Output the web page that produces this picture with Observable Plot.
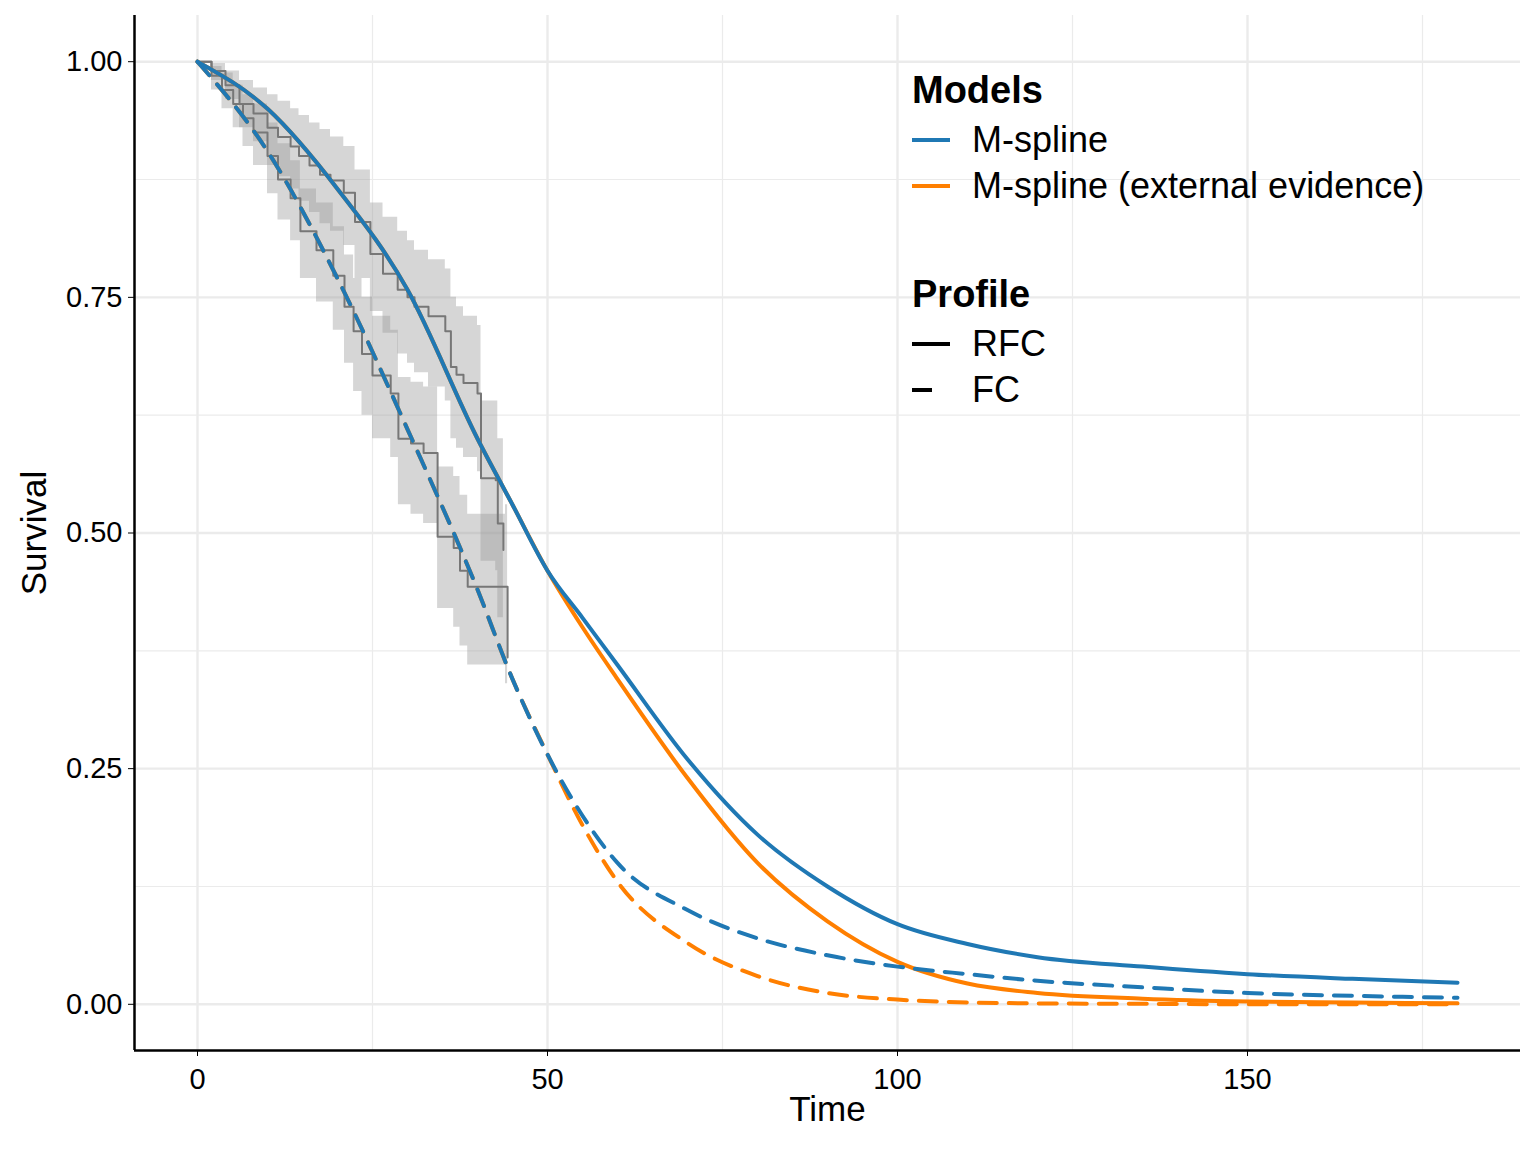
<!DOCTYPE html>
<html><head><meta charset="utf-8">
<script src="https://cdn.jsdelivr.net/npm/d3@7"></script>
<script src="https://cdn.jsdelivr.net/npm/@observablehq/plot@0.6"></script>
<style>
body{margin:0;background:#fff;font-family:"Liberation Sans",Arial,sans-serif}
#wrap{position:relative;width:1536px;height:1152px}
.leg{position:absolute;left:912px;font-size:36px;color:#000}
.leg b{font-size:38px}
.row{display:flex;align-items:center;height:46px}
.sw{width:38px;height:0;border-top:4px solid;margin-right:22px}
</style></head><body><div id="wrap"></div>
<script>
// Kaplan-Meier RFC
const kmRfcT = [0,2,4,6,8,10,11.5,13.3,14.5,16,17.5,19,20.9,22.5,24.7,26.5,28.6,30,31,33,35.4,36.2,37,38,40,40.5,42.6,42.9,43.7];
const kmRfcS = [1,0.99,0.975,0.955,0.945,0.93,0.92,0.91,0.9,0.89,0.88,0.874,0.861,0.83,0.796,0.775,0.758,0.75,0.74,0.73,0.714,0.676,0.668,0.659,0.648,0.558,0.556,0.51,0.482];
const kmRfcLo= [1,0.98,0.96,0.93,0.915,0.89,0.878,0.865,0.852,0.84,0.828,0.82,0.805,0.77,0.735,0.712,0.69,0.68,0.67,0.655,0.64,0.60,0.59,0.58,0.565,0.47,0.46,0.41,0.38];
const kmRfcHi= [1,0.998,0.99,0.98,0.972,0.965,0.958,0.95,0.943,0.935,0.928,0.92,0.91,0.885,0.85,0.835,0.82,0.81,0.80,0.79,0.78,0.75,0.74,0.73,0.72,0.64,0.64,0.60,0.58];
// Kaplan-Meier FC
const kmFcT = [0,2,3.5,5.1,6.5,8,10,11.5,13.3,14.7,17,19.4,21,22.3,23.5,25,27.6,28.7,30.5,32.3,34.3,36.6,37.5,38.6,44,44.3];
const kmFcS = [1,0.985,0.97,0.955,0.94,0.925,0.90,0.875,0.855,0.82,0.80,0.773,0.74,0.714,0.69,0.667,0.648,0.60,0.595,0.585,0.496,0.484,0.46,0.443,0.443,0.368];
const kmFcLo= [1,0.97,0.95,0.93,0.91,0.89,0.86,0.832,0.81,0.77,0.745,0.715,0.68,0.65,0.625,0.60,0.58,0.53,0.52,0.51,0.42,0.40,0.38,0.36,0.34,0.27];
const kmFcHi= [1,0.995,0.988,0.975,0.965,0.955,0.935,0.913,0.895,0.865,0.85,0.825,0.795,0.77,0.75,0.73,0.715,0.665,0.66,0.655,0.57,0.56,0.54,0.52,0.53,0.47];
// Fitted models
const fitT = [0,10,20,30,40,45,50,55,60,70,80,90,100,110,120,135,150,165,180];
const rfcMs  = [1,0.95,0.865,0.758,0.60,0.53,0.46,0.41,0.36,0.26,0.18,0.125,0.085,0.064,0.05,0.04,0.032,0.027,0.023];
const rfcExt = [1,0.95,0.865,0.758,0.60,0.53,0.46,0.40,0.345,0.24,0.15,0.088,0.045,0.022,0.012,0.006,0.003,0.002,0.001];
const fcMs   = [1,0.905,0.77,0.61,0.44,0.345,0.265,0.20,0.15,0.10,0.07,0.052,0.04,0.032,0.025,0.018,0.012,0.009,0.007];
const fcExt  = [1,0.905,0.77,0.61,0.44,0.345,0.265,0.19,0.13,0.065,0.03,0.012,0.005,0.002,0.001,0.0005,0,0,0];
const modelNames = ["M-spline","M-spline (external evidence)"];
const profileNames = ["RFC","FC"];
const colors = ["#1f78b4","#ff7f00"];

const km = (T,S,L,H)=>T.map((t,i)=>({t,s:S[i],lo:L[i],hi:H[i]}));
const kmR = km(kmRfcT,kmRfcS,kmRfcLo,kmRfcHi), kmF = km(kmFcT,kmFcS,kmFcLo,kmFcHi);

const order = [[rfcExt,1,0],[fcExt,1,1],[rfcMs,0,0],[fcMs,0,1]];
const lineMarks = order.map(([arr,m,p])=>Plot.line(fitT.map((t,i)=>({t,s:arr[i]})),
  {x:"t",y:"s",stroke:colors[m],strokeWidth:4,curve:"monotone-x",strokeDasharray:p?"18,12":null}));

const chart = Plot.plot({
  width:1536,height:1152,marginLeft:134,marginRight:16,marginTop:15,marginBottom:102,
  style:{fontFamily:"Liberation Sans, Arial, sans-serif",fontSize:"29px",color:"#000",background:"#fff"},
  x:{domain:[-9,189],label:null},
  y:{domain:[-0.049,1.049],label:null},
  marks:[
    Plot.gridX([25,75,125,175],{stroke:"#ebebeb",strokeOpacity:1,strokeWidth:1.2}),
    Plot.gridY([0.125,0.375,0.625,0.875],{stroke:"#ebebeb",strokeOpacity:1,strokeWidth:1.2}),
    Plot.gridX([0,50,100,150],{stroke:"#ebebeb",strokeOpacity:1,strokeWidth:2.4}),
    Plot.gridY([0,0.25,0.5,0.75,1],{stroke:"#ebebeb",strokeOpacity:1,strokeWidth:2.4}),
    Plot.areaY(kmR,{x:"t",y1:"lo",y2:"hi",curve:"step-after",fill:"#999",fillOpacity:0.4}),
    Plot.areaY(kmF,{x:"t",y1:"lo",y2:"hi",curve:"step-after",fill:"#999",fillOpacity:0.4}),
    Plot.line(kmR,{x:"t",y:"s",curve:"step-after",stroke:"#777",strokeWidth:2}),
    Plot.line(kmF,{x:"t",y:"s",curve:"step-after",stroke:"#777",strokeWidth:2}),
    ...lineMarks,
    Plot.axisX({ticks:[0,50,100,150],tickSize:6,tickPadding:12,fontSize:29}),
    Plot.axisY({ticks:[0,0.25,0.5,0.75,1],tickFormat:d3.format(".2f"),tickSize:6,tickPadding:6,fontSize:29}),
    Plot.ruleX([-9],{stroke:"#000",strokeWidth:2.5}),
    Plot.ruleY([-0.049],{stroke:"#000",strokeWidth:2.5}),
    Plot.text(["Time"],{frameAnchor:"bottom",dy:70,fontSize:35}),
    Plot.text(["Survival"],{frameAnchor:"left",textAnchor:"middle",dx:-100,rotate:-90,fontSize:35})
  ]
});
const wrap = document.getElementById("wrap");
wrap.appendChild(chart);
const leg = document.createElement("div");
leg.className="leg"; leg.style.top="63px";
leg.innerHTML = `<div class="row" style="height:54px"><b>Models</b></div>
${modelNames.map((n,i)=>`<div class="row"><span class="sw" style="border-color:${colors[i]}"></span>${n}</div>`).join("")}
<div class="row" style="height:58px"></div>
<div class="row" style="height:54px"><b>Profile</b></div>
<div class="row"><span class="sw" style="border-color:#000"></span>${profileNames[0]}</div>
<div class="row"><span class="sw" style="border-color:#000;width:20px;margin-right:40px"></span>${profileNames[1]}</div>`;
wrap.appendChild(leg);
</script></body></html>
